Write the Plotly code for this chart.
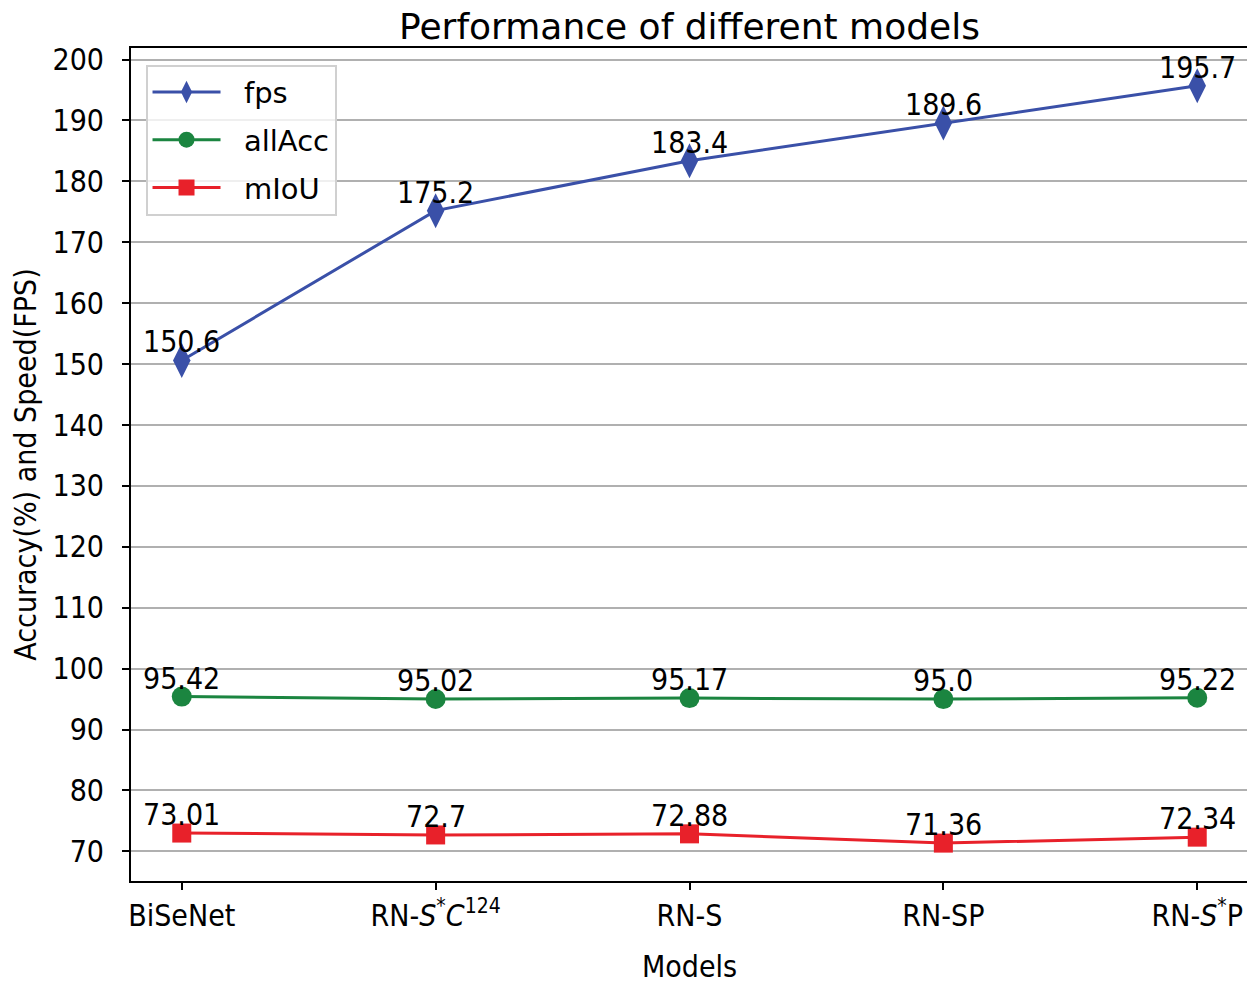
import plotly.graph_objects as go

models = ["BiSeNet", "RN-<i>S</i><sup>*</sup><i>C</i><sup>124</sup>", "RN-S", "RN-SP", "RN-<i>S</i><sup>*</sup>P"]
fps = [150.6, 175.2, 183.4, 189.6, 195.7]
allAcc = [95.42, 95.02, 95.17, 95.0, 95.22]
mIoU = [73.01, 72.7, 72.88, 71.36, 72.34]
yticks = list(range(70, 201, 10))

FONT = "DejaVu Sans Condensed, DejaVu Sans"
FONT_N = "DejaVu Sans"
fig = go.Figure()

series = [
    ("fps", fps, "#3a50a8", "diamond-tall", 25),
    ("allAcc", allAcc, "#1b8540", "circle", 20),
    ("mIoU", mIoU, "#e8212a", "square", 19),
]
idx = list(range(len(models)))
for name, vals, color, sym, size in series:
    fig.add_trace(go.Scatter(
        x=idx, y=vals, name="&nbsp;&nbsp;" + name, mode="lines+markers",
        legendgroup=name,
        line=dict(color=color, width=3),
        marker=dict(symbol=sym, size=size, color=color, line=dict(width=0)),
    ))
    for i, v in zip(idx, vals):
        fig.add_annotation(x=i, y=v, text=str(v), showarrow=False,
                           xanchor="center", yanchor="bottom", yshift=-1,
                           font=dict(family=FONT, size=30, color="black"))

fig.update_layout(
    width=1247, height=976,
    margin=dict(l=123, r=7, t=40, b=103),
    paper_bgcolor="white", plot_bgcolor="white",
    font=dict(family=FONT, size=30, color="black"),
    title=dict(text="Performance of different models", x=0.5, xref="paper", xanchor="center",
               y=0.981, yanchor="middle", font=dict(family=FONT_N, size=36)),
    showlegend=True,
    legend=dict(x=0.013, y=0.98, xanchor="left", yanchor="top",
                bgcolor="rgba(255,255,255,0.8)", bordercolor="#d0d0d0", borderwidth=2,
                font=dict(family=FONT_N, size=29), itemwidth=68, tracegroupgap=7,
                traceorder="grouped"),
)
fig.update_xaxes(
    range=[-0.2, 4.2], tickvals=idx, ticktext=models, automargin=False,
    showline=True, linecolor="black", linewidth=2, mirror=True,
    ticks="outside", ticklen=7, tickwidth=2, tickcolor="black",
    showgrid=False, zeroline=False,
    title=dict(text="Models", font=dict(size=30), standoff=26),
)
fig.update_yaxes(
    range=[65.14, 201.9], tickvals=yticks, automargin=False,
    showline=True, linecolor="black", linewidth=2, mirror=True,
    ticks="outside", ticklen=7, tickwidth=2, tickcolor="black",
    ticklabelstandoff=12,
    showgrid=True, gridcolor="#b0b0b0", gridwidth=2, zeroline=False,
    title=dict(text="Accuracy(%) and Speed(FPS)", font=dict(size=30), standoff=28),
)
fig.write_html("out.html")
